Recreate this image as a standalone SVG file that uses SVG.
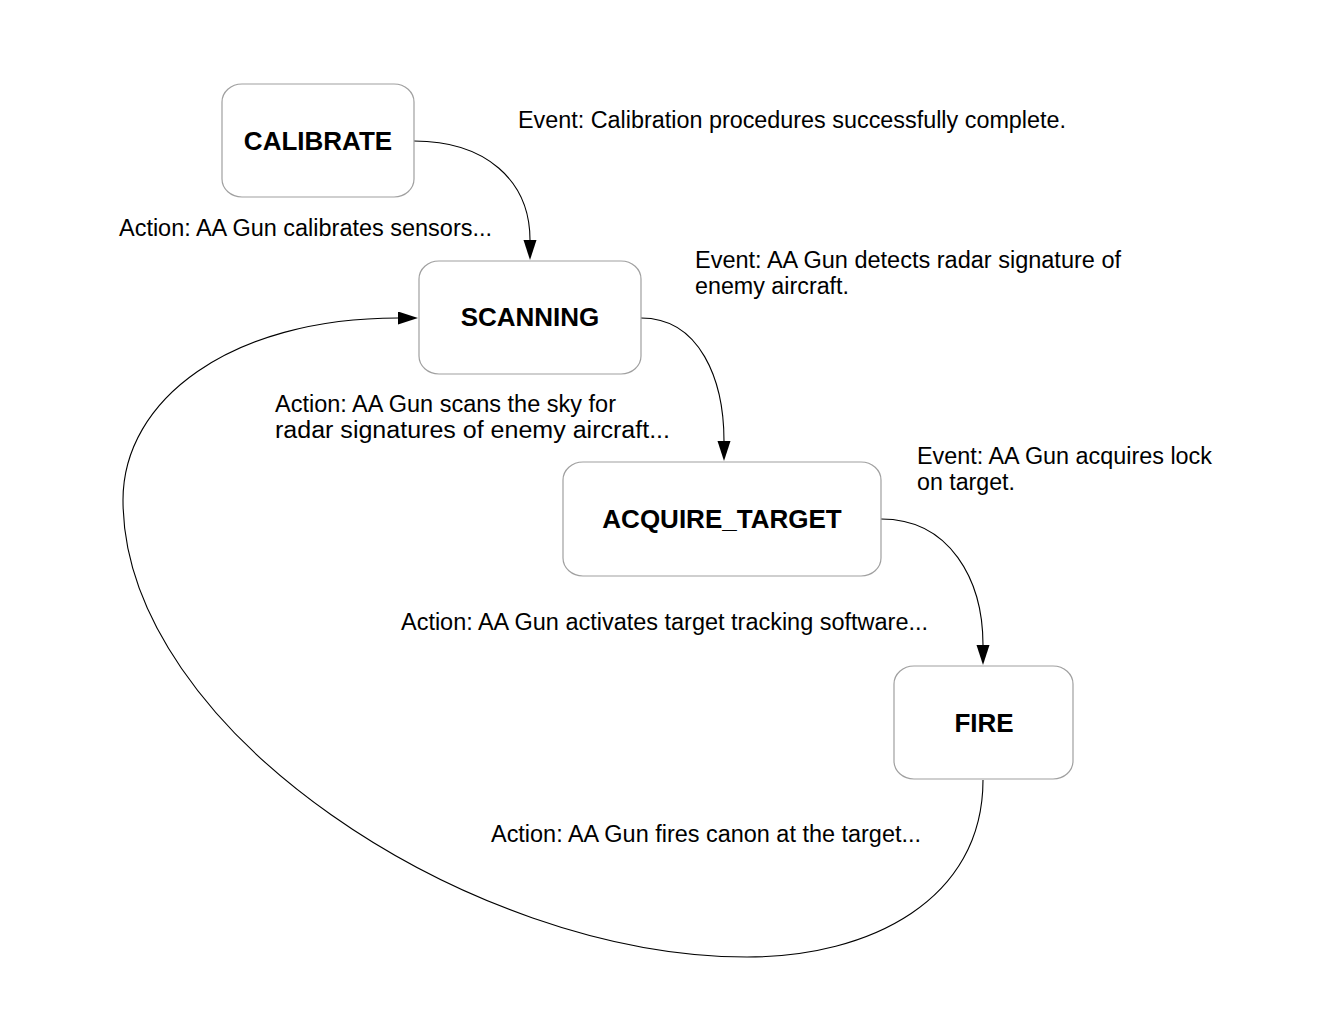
<svg xmlns="http://www.w3.org/2000/svg" width="1320" height="1020" viewBox="0 0 1320 1020">
<style>
.node rect{fill:#ffffff;stroke:#a0a0a0;stroke-width:1.2}
.node text{font-family:"Liberation Sans",Arial,sans-serif;font-weight:bold;font-size:26px;fill:#000;text-anchor:middle}
.lbl{font-family:"Liberation Sans",Arial,sans-serif;font-size:23px;fill:#000}
.edge{fill:none;stroke:#000;stroke-width:1.1;marker-end:url(#arr)}
</style>
<defs>
<marker id="arr" markerUnits="userSpaceOnUse" markerWidth="22" markerHeight="14" refX="0" refY="6.5" orient="auto">
<path d="M0,0 L20,6.5 L0,13 Z" fill="#000"/>
</marker>
</defs>
<rect width="1320" height="1020" fill="#fff"/>
<g id="connectors">
<path class="edge" d="M414,141 C485,141 530,180 530,240"/>
<path class="edge" d="M641,318 C700,318 724,380 724,441"/>
<path class="edge" d="M881,519 C950,519 983,580 983,645"/>
<path class="edge" d="M983,780 C983,900 870,957 747,957 C470,957 123,730 123,500 C123,400 230,318 398,318"/>
</g>
<g id="node-calibrate" class="node">
<rect x="222" y="84" width="192" height="113" rx="20" ry="18"/>
<text x="318" y="150">CALIBRATE</text>
</g>
<g id="node-scanning" class="node">
<rect x="419" y="261" width="222" height="113" rx="20" ry="18"/>
<text x="530" y="326">SCANNING</text>
</g>
<g id="node-acquire" class="node">
<rect x="563" y="462" width="318" height="114" rx="20" ry="18"/>
<text x="722" y="528">ACQUIRE_TARGET</text>
</g>
<g id="node-fire" class="node">
<rect x="894" y="666" width="179" height="113" rx="20" ry="18"/>
<text x="984" y="732">FIRE</text>
</g>
<g id="labels">
<text class="lbl" x="518" y="128" textLength="548" lengthAdjust="spacingAndGlyphs">Event: Calibration procedures successfully complete.</text>
<text class="lbl" x="119" y="236" textLength="373" lengthAdjust="spacingAndGlyphs">Action: AA Gun calibrates sensors...</text>
<text class="lbl" x="695" y="268" textLength="426" lengthAdjust="spacingAndGlyphs">Event: AA Gun detects radar signature of</text>
<text class="lbl" x="695" y="294" textLength="154" lengthAdjust="spacingAndGlyphs">enemy aircraft.</text>
<text class="lbl" x="275" y="412" textLength="341" lengthAdjust="spacingAndGlyphs">Action: AA Gun scans the sky for</text>
<text class="lbl" x="275" y="438" textLength="395" lengthAdjust="spacingAndGlyphs">radar signatures of enemy aircraft...</text>
<text class="lbl" x="917" y="464" textLength="295" lengthAdjust="spacingAndGlyphs">Event: AA Gun acquires lock</text>
<text class="lbl" x="917" y="490" textLength="98" lengthAdjust="spacingAndGlyphs">on target.</text>
<text class="lbl" x="401" y="630" textLength="527" lengthAdjust="spacingAndGlyphs">Action: AA Gun activates target tracking software...</text>
<text class="lbl" x="491" y="842" textLength="430" lengthAdjust="spacingAndGlyphs">Action: AA Gun fires canon at the target...</text>
</g>
</svg>
